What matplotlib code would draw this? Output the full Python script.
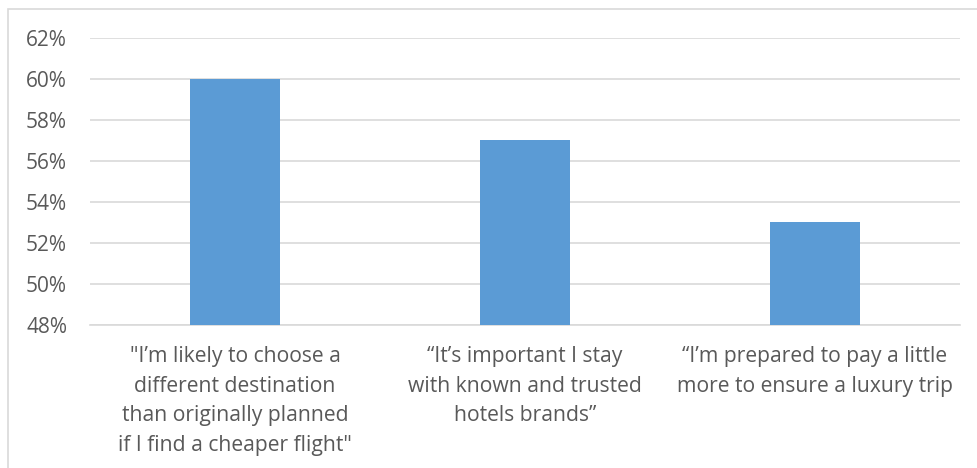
import matplotlib.pyplot as plt
from matplotlib.patches import Rectangle
from matplotlib.ticker import FuncFormatter

categories = [
    '"I\u2019m likely to choose a\ndifferent destination\nthan originally planned\nif I find a cheaper flight"',
    '\u201cIt\u2019s important I stay\nwith known and trusted\nhotels brands\u201d',
    '\u201cI\u2019m prepared to pay a little\nmore to ensure a luxury trip',
]
values = [60, 57, 53]
yticks = [48, 50, 52, 54, 56, 58, 60, 62]

plt.rcParams['font.family'] = ['Open Sans', 'DejaVu Sans']
text_color = '#595959'
grid_color = '#D9D9D9'

fig = plt.figure(figsize=(9.77, 4.68), dpi=100)
ax = fig.add_axes([90 / 977, 1 - 325 / 468, 870 / 977, 287 / 468])

ax.bar(range(len(values)), values, width=0.31, color='#5B9BD5', zorder=3)

ax.set_xlim(-0.5, len(values) - 0.5)
ax.set_ylim(yticks[0], yticks[-1])
ax.set_yticks(yticks)
ax.yaxis.set_major_formatter(FuncFormatter(lambda v, p: f'{v:.0f}%'))
ax.set_xticks(range(len(values)))
ax.set_xticklabels(categories, linespacing=1.55, fontsize=15.2)

ax.grid(axis='y', color=grid_color, linewidth=1.2, zorder=0)
for s in ['top', 'right', 'left']:
    ax.spines[s].set_visible(False)
ax.spines['bottom'].set_color(grid_color)
ax.spines['bottom'].set_linewidth(1.2)
ax.tick_params(axis='both', length=0, colors=text_color)
ax.tick_params(axis='y', pad=16.5, labelsize=15)
ax.tick_params(axis='x', pad=15)

# chart frame
fig.patches.append(Rectangle((8 / 977, -0.1), 1.2, 1 - 9 / 468 + 0.1,
                             transform=fig.transFigure, fill=False,
                             edgecolor=grid_color, linewidth=1.2))

fig.savefig('out.png', dpi=100)
